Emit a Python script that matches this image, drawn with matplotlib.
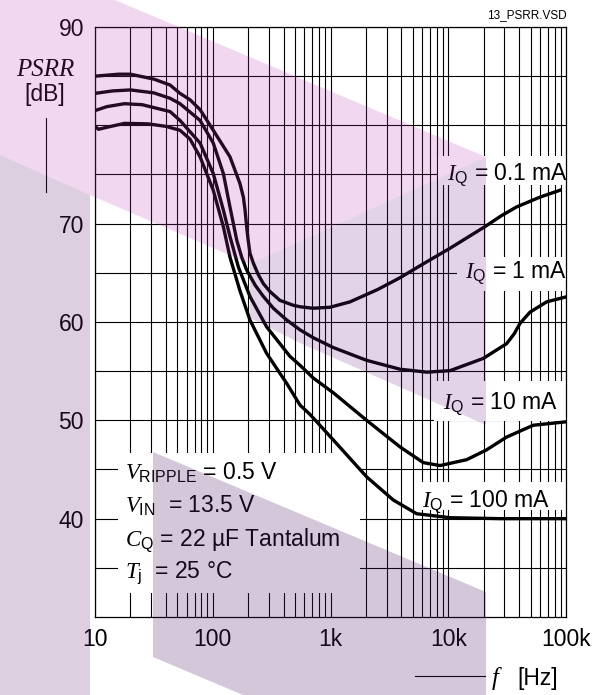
import matplotlib
matplotlib.use("Agg")
import matplotlib.pyplot as plt
from matplotlib.patches import Rectangle, Polygon
from matplotlib.lines import Line2D

plt.rcParams['font.family'] = 'Liberation Sans'
plt.rcParams['mathtext.fontset'] = 'custom'
plt.rcParams['mathtext.it'] = 'Liberation Serif:italic'
plt.rcParams['mathtext.rm'] = 'Liberation Sans'

# PSRR curves
f_01 = [10, 15.8, 20, 31.6, 43.4, 52.7, 64.1, 78, 101, 140, 170, 182, 188, 194, 200, 207, 221, 244,
        269, 306, 372, 483, 551, 708, 991, 1466, 2512, 3890, 6310, 10350, 14125, 20510, 28180,
        38020, 60120, 88920]
db_01 = [85.0, 85.2, 85.2, 84.7, 84.1, 83.25, 82.6, 81.6, 79.5, 76.8, 74.1, 72.7, 71.4, 69.7, 68.3, 67.0, 66.0, 64.8,
         63.9, 63.1, 62.2, 61.7, 61.55, 61.4, 61.5, 62.05, 63.3, 64.5, 66.0, 67.5, 68.5, 69.7, 70.8,
         71.7, 72.7, 73.4]

f_1 = [10, 14.1, 20, 31.6, 43.4, 52.7, 78, 101, 123, 140, 160, 176, 194, 229, 269, 327, 425, 551, 714,
       1057, 2028, 3890, 6561, 10350, 19860, 31330, 36310, 40640, 49430, 68550, 100000]
db_1 = [83.25, 83.5, 83.6, 83.3, 82.75, 82.2, 80.5, 78.2, 75.1, 71.7, 68.3, 66.6, 65.3, 63.75, 62.6, 61.4, 60.2, 59.2, 58.4,
        57.4, 56.1, 55.2, 54.9, 55.05, 56.3, 57.8, 58.8, 59.85, 61.0, 62.05, 62.55]

f_10 = [10, 12.6, 17.8, 25.1, 43.4, 52.7, 78, 101, 123, 140, 165, 207, 287, 453, 551, 714,
        1057, 2028, 3890, 6138, 8511, 14355, 21180, 31330, 52720, 100000]
db_10 = [81.5, 81.9, 82.2, 82.1, 81.4, 80.5, 78.2, 75.1, 71.4, 68.7, 65.6, 62.6, 59.5, 56.5, 55.6, 54.3,
         52.8, 50.0, 47.3, 45.7, 45.4, 46.0, 47.0, 48.3, 49.5, 49.85]

f_100 = [10, 10.7, 12.6, 17.8, 28.2, 39.8, 52.7, 64.1, 78, 101, 123, 140, 170, 207, 287, 425,
         551, 670, 1057, 2028, 3412, 5395, 10350, 27540, 100000]
db_100 = [79.9, 79.6, 79.8, 80.2, 80.15, 79.9, 79.5, 78.6, 76.8, 73.4, 69.7, 66.6, 63.2, 60.2, 56.8, 53.75,
          51.55, 50.6, 48.0, 44.25, 41.9, 40.5, 40.1, 40.0, 40.0]

ytick_vals = [40, 50, 60, 70, 90]
ytick_labels = ['40', '50', '60', '70', '90']
xtick_vals = [10, 100, 1000, 10000, 100000]
xtick_labels = ['10', '100', '1k', '10k', '100k']

W, H = 600, 695


def fx(px):
    return px / W


def fy(py):
    return 1 - py / H


fig = plt.figure(figsize=(6, 6.95), dpi=100)
ax = fig.add_axes([fx(95), fy(617), (566 - 95) / W, (617 - 27) / H])
ax.set_xscale('log')
ax.set_xlim(10, 100000)
ax.set_ylim(30, 90)

ax.set_xticks(xtick_vals)
ax.set_xticklabels(xtick_labels)
ax.set_xticks([d * k for d in [10, 100, 1000, 10000] for k in range(2, 10)], minor=True)
ax.set_yticks(ytick_vals)
ax.set_yticklabels(ytick_labels)
ax.set_yticks([35, 45, 55, 65, 75, 80, 85], minor=True)
ax.xaxis.set_minor_formatter(plt.NullFormatter())
ax.tick_params(which='both', length=0, labelsize=16.5)
ax.tick_params(axis='y', pad=8)
ax.tick_params(axis='x', pad=8)
ax.grid(which='both', color='black', lw=0.8)
for s in ax.spines.values():
    s.set_linewidth(0.9)

for f, d in [(f_01, db_01), (f_1, db_1), (f_10, db_10), (f_100, db_100)]:
    ax.plot(f, d, color='black', lw=2.4, zorder=3, solid_joinstyle='round')

# white boxes behind the labels
boxes = [(438, 156, 566, 185), (457, 257, 566, 291), (434, 381, 566, 421),
         (417, 482, 566, 510), (118, 453, 360, 593)]
for x0, y0, x1, y1 in boxes:
    ax.add_patch(Rectangle((fx(x0), fy(y1)), (x1 - x0) / W, (y1 - y0) / H,
                           transform=fig.transFigure, facecolor='white',
                           edgecolor='none', zorder=2))

fs = 16.5
fig.text(fx(568), fy(180), r'$I_\mathrm{Q}$ = 0.1 mA', fontsize=fs, ha='right', va='baseline')
fig.text(fx(567), fy(278), r'$I_\mathrm{Q}$ = 1 mA', fontsize=fs, ha='right', va='baseline')
fig.text(fx(558), fy(409), r'$I_\mathrm{Q}$ = 10 mA', fontsize=fs, ha='right', va='baseline')
fig.text(fx(550), fy(507), r'$I_\mathrm{Q}$ = 100 mA', fontsize=fs, ha='right', va='baseline')

cond = [r'$V_\mathrm{RIPPLE}$ = 0.5 V', r'$V_\mathrm{IN}$  = 13.5 V',
        r'$C_\mathrm{Q}$ = 22 µF Tantalum', r'$T_\mathrm{j}$  = 25 °C']
for i, s in enumerate(cond):
    fig.text(fx(125), fy(480 + i * 32.6), s, fontsize=fs, ha='left', va='baseline')

# axis titles
fig.text(fx(45), fy(76.5), 'PSRR', family='Liberation Serif', style='italic',
         fontsize=18, ha='center', va='baseline')
fig.text(fx(45), fy(101), '[dB]', fontsize=fs, ha='center', va='baseline')
fig.add_artist(Line2D([fx(45.7)] * 2, [fy(118), fy(192)], color='black', lw=0.8))
fig.add_artist(Line2D([fx(415), fx(485)], [fy(676)] * 2, color='black', lw=0.8))
fig.text(fx(491), fy(685), r'$f$', fontsize=18, ha='left', va='baseline')
fig.text(fx(517), fy(685), '[Hz]', fontsize=fs, ha='left', va='baseline')
fig.text(fx(567), fy(18.3), '13_PSRR.VSD', fontsize=8.5, ha='right', va='baseline')

# watermark shapes laid over the chart
marks = [
    ([(0, 0), (115, 0), (486, 157), (250, 264), (90, 195), (0, 155)], (185 / 255, 60 / 255, 180 / 255), 0.2),
    ([(250, 264), (486, 157), (486, 425), (300, 343), (250, 318)], (110 / 255, 40 / 255, 130 / 255), 0.2),
    ([(0, 155), (90, 195), (90, 695), (0, 695)], (100 / 255, 41 / 255, 114 / 255), 0.22),
    ([(153, 452), (486, 592), (486, 695), (243, 695), (153, 657)], (87 / 255, 35 / 255, 107 / 255), 0.25),
]
for pts, c, a in marks:
    fig.add_artist(Polygon([(fx(x), fy(y)) for x, y in pts], closed=True,
                           transform=fig.transFigure, facecolor=c, alpha=a,
                           edgecolor='none', zorder=10))

fig.savefig('out.png', dpi=100)
